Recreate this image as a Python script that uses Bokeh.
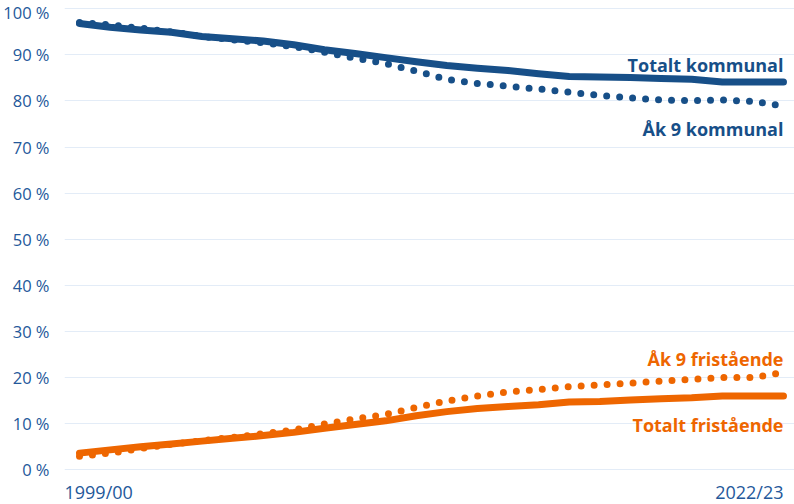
from bokeh.plotting import figure
from bokeh.models import Range1d, FixedTicker, Label
from bokeh.core.properties import value
from bokeh.embed import file_html
from bokeh.resources import INLINE

years = ["1999/00", "2000/01", "2001/02", "2002/03", "2003/04", "2004/05",
         "2005/06", "2006/07", "2007/08", "2008/09", "2009/10", "2010/11",
         "2011/12", "2012/13", "2013/14", "2014/15", "2015/16", "2016/17",
         "2017/18", "2018/19", "2019/20", "2020/21", "2021/22", "2022/23"]

totalt_kommunal = [96.8, 96.0, 95.4, 94.9, 94.0, 93.5, 93.0, 92.2, 91.1, 90.3,
                   89.4, 88.5, 87.7, 87.1, 86.6, 85.9, 85.3, 85.2, 85.1, 84.9,
                   84.7, 84.1, 84.1, 84.1]
ak9_kommunal = [97.0, 96.5, 95.8, 95.0, 94.0, 93.3, 92.6, 91.8, 90.6, 89.3,
                88.1, 86.5, 84.7, 83.8, 83.2, 82.6, 81.9, 81.2, 80.7, 80.2,
                80.1, 80.2, 79.9, 78.9]
totalt_fristaende = [3.6, 4.3, 5.0, 5.6, 6.2, 6.8, 7.4, 8.1, 9.0, 9.8,
                     10.6, 11.7, 12.6, 13.3, 13.7, 14.1, 14.7, 14.8, 15.1, 15.4,
                     15.6, 16.0, 16.0, 16.0]
ak9_fristaende = [2.9, 3.6, 4.6, 5.5, 6.3, 7.0, 7.8, 8.6, 9.9, 11.0,
                  12.0, 13.5, 14.9, 16.0, 16.9, 17.4, 18.0, 18.4, 18.8, 19.2,
                  19.6, 20.0, 20.0, 21.1]

y_ticks = [0, 10, 20, 30, 40, 50, 60, 70, 80, 90, 100]
y_tick_labels = {t: f"{t} %" for t in y_ticks}

BLUE = "#174f88"
ORANGE = "#ee6600"
TICK = "#24589a"
GRID = "#e3ecf7"
FONT = "Open Sans"

xs = list(range(len(years)))

p = figure(width=794, height=504, output_backend="svg", toolbar_location=None,
           x_range=Range1d(-0.49, 23.36), y_range=Range1d(-7.55, 101.8),
           x_axis_location=None,
           min_border_left=0, min_border_right=0, min_border_top=0, min_border_bottom=0)
p.outline_line_color = None
p.background_fill_color = "white"
p.xgrid.visible = False

p.yaxis.ticker = FixedTicker(ticks=y_ticks)
p.yaxis.major_label_overrides = y_tick_labels
p.yaxis.axis_line_color = None
p.yaxis.major_tick_line_color = None
p.yaxis.minor_tick_line_color = None
p.yaxis.major_label_text_font = FONT
p.yaxis.major_label_text_font_size = "16.5px"
p.yaxis.major_label_text_color = TICK
p.yaxis.major_label_standoff = 9
p.ygrid.grid_line_color = GRID
p.ygrid.grid_line_width = 1

LW = 7
p.line(xs, ak9_kommunal, line_color=BLUE, line_width=LW, line_dash="0 13",
       line_cap="round", line_join="round")
p.line(xs, totalt_kommunal, line_color=BLUE, line_width=LW,
       line_cap="round", line_join="round")
p.line(xs, ak9_fristaende, line_color=ORANGE, line_width=LW, line_dash="0 13",
       line_cap="round", line_join="round")
p.line(xs, totalt_fristaende, line_color=ORANGE, line_width=LW,
       line_cap="round", line_join="round")

last = xs[-1]
label_kw = dict(text_font=value(FONT), text_font_size="18px", text_font_style="bold",
                text_align="right", text_baseline="alphabetic")
p.text(x=[last], y=[totalt_kommunal[-1]], text=["Totalt kommunal"],
       text_color=BLUE, y_offset=-17, **label_kw)
p.text(x=[last], y=[ak9_kommunal[-1]], text=["Åk 9 kommunal"],
       text_color=BLUE, y_offset=23, **label_kw)
p.text(x=[last], y=[ak9_fristaende[-1]], text=["Åk 9 fristående"],
       text_color=ORANGE, y_offset=-13, **label_kw)
p.text(x=[last], y=[totalt_fristaende[-1]], text=["Totalt fristående"],
       text_color=ORANGE, y_offset=29, **label_kw)

for xi, txt, align, dx in [(xs[0], years[0], "left", -15), (last, years[-1], "right", 0)]:
    p.add_layout(Label(x=xi, y=y_ticks[0], text=txt, text_align=align,
                       text_baseline="alphabetic", x_offset=dx, y_offset=-22,
                       text_font=FONT, text_font_size="18px", text_color=TICK))

open("out.html", "w").write(file_html(p, INLINE))
